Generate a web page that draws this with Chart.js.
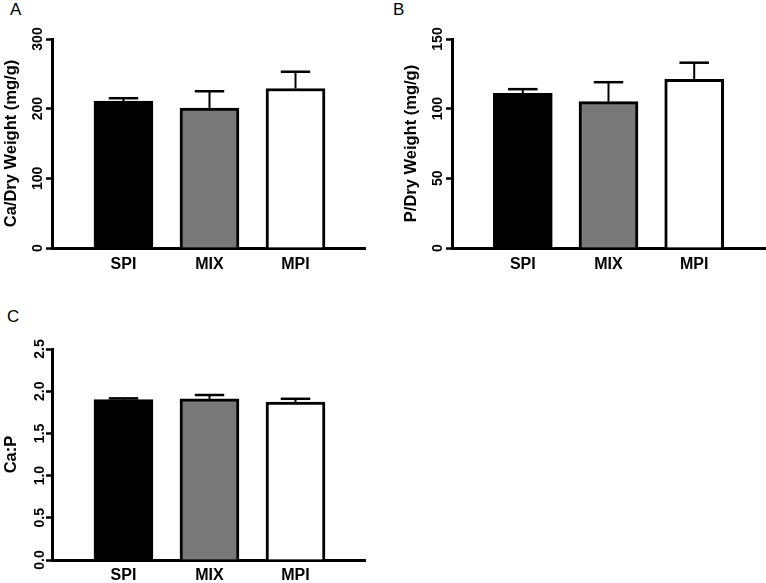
<!DOCTYPE html>
<html>
<head>
<meta charset="utf-8">
<script src="https://cdn.jsdelivr.net/npm/chart.js@4/dist/chart.umd.min.js"></script>
<style>
  html, body { margin: 0; padding: 0; background: #fff; }
  body { width: 766px; height: 583px; position: relative; overflow: hidden; font-family: "Liberation Sans", Arial, sans-serif; }
  .panel { position: absolute; }
  .letter { position: absolute; font-size: 17px; line-height: 17px; color: #000; font-family: "Liberation Sans", Arial, sans-serif; }
</style>
</head>
<body>
<div class="letter" style="left:10px; top:1px;">A</div>
<div class="letter" style="left:393px; top:1px;">B</div>
<div class="letter" style="left:7px; top:308px;">C</div>
<div class="panel" style="left:0; top:0; width:366px; height:280px;"><canvas id="cA"></canvas></div>
<div class="panel" style="left:400px; top:0; width:366px; height:280px;"><canvas id="cB"></canvas></div>
<div class="panel" style="left:0; top:310px; width:366px; height:273px;"><canvas id="cC"></canvas></div>
<script>
// ---- data ----
const categories = ['SPI', 'MIX', 'MPI'];
const barColors = ['#000000', '#787878', '#ffffff'];

const caMean = [211, 201, 229];
const caErr = [4, 24, 24];
const caTicks = [0, 100, 200, 300];

const pMean = [111, 105, 121];
const pErr = [3, 14, 12];
const pTicks = [0, 50, 100, 150];

const ratioMean = [1.90, 1.91, 1.87];
const ratioErr = [0.015, 0.045, 0.04];
const ratioTicks = [0.0, 0.5, 1.0, 1.5, 2.0, 2.5];

// ---- error bar plugin (uses the chart's own scales) ----
const errorBars = {
  id: 'errorBars',
  beforeDatasetsDraw(chart, args, opts) {
    const ctx = chart.ctx;
    const meta = chart.getDatasetMeta(0);
    const yScale = chart.scales.y;
    const errs = opts.errors || [];
    const means = chart.data.datasets[0].data;
    ctx.save();
    ctx.strokeStyle = '#000';
    meta.data.forEach((bar, i) => {
      const v = means[i].y;
      const yTop = yScale.getPixelForValue(v + errs[i]);
      const yBase = yScale.getPixelForValue(v);
      const x = bar.x;
      const capHalf = bar.width / 4;
      ctx.lineWidth = 2;
      ctx.beginPath();
      ctx.moveTo(x, yBase);
      ctx.lineTo(x, yTop);
      ctx.stroke();
      ctx.lineWidth = 2.5;
      ctx.beginPath();
      ctx.moveTo(x - capHalf, yTop);
      ctx.lineTo(x + capHalf, yTop);
      ctx.stroke();
    });
    ctx.restore();
  }
};

function makeChart(id, means, errs, ticks, title, xMin, xMax, yWidth, xHeight, xPad, tickFmt) {
  const maxV = ticks[ticks.length - 1];
  return new Chart(document.getElementById(id), {
    type: 'bar',
    data: {
      datasets: [{
        data: categories.map((c, i) => ({ x: i, y: means[i] })),
        backgroundColor: barColors,
        borderColor: '#000',
        borderWidth: 3,
        barThickness: 59
      }]
    },
    options: {
      responsive: true,
      maintainAspectRatio: false,
      animation: false,
      layout: { padding: { top: 39, right: 1, left: 0, bottom: 0 } },
      plugins: {
        legend: { display: false },
        tooltip: { enabled: false },
        errorBars: { errors: errs }
      },
      scales: {
        x: {
          type: 'linear',
          min: xMin,
          max: xMax,
          offset: false,
          grid: { display: false },
          border: { display: true, color: '#000', width: 3 },
          afterBuildTicks: (s) => { s.ticks = categories.map((c, i) => ({ value: i })); },
          afterFit: (s) => { s.height = xHeight; },
          ticks: {
            autoSkip: false,
            maxRotation: 0,
            minRotation: 0,
            padding: xPad,
            color: '#000',
            font: { family: '"Liberation Sans", Arial, sans-serif', size: 16, weight: 'bold' },
            callback: (v) => categories[v]
          }
        },
        y: {
          min: 0,
          max: maxV,
          afterBuildTicks: (s) => { s.ticks = ticks.map(v => ({ value: v })); },
          afterFit: (s) => { s.width = yWidth; },
          grid: {
            display: true,
            drawOnChartArea: false,
            drawTicks: true,
            tickLength: 6,
            tickWidth: 2.5,
            tickColor: '#000'
          },
          border: { display: true, color: '#000', width: 3 },
          ticks: {
            minRotation: 90,
            maxRotation: 90,
            crossAlign: 'center',
            padding: -4,
            color: '#000',
            font: { family: '"Liberation Sans", Arial, sans-serif', size: 14, weight: 'bold' },
            callback: tickFmt
          },
          title: {
            display: true,
            text: title,
            color: '#000',
            padding: { top: 2, bottom: 0 },
            font: { family: '"Liberation Sans", Arial, sans-serif', size: 16.5, weight: 'bold' }
          }
        }
      }
    },
    plugins: [errorBars]
  });
}

makeChart('cA', caMean, caErr, caTicks, 'Ca/Dry Weight (mg/g)', -0.831, 2.808, 52, 32, -1, (v) => String(v));
makeChart('cB', pMean, pErr, pTicks, 'P/Dry Weight (mg/g)', -0.826, 2.826, 52, 32, -1, (v) => String(v));
makeChart('cC', ratioMean, ratioErr, ratioTicks, 'Ca:P', -0.831, 2.808, 52, 23, -2, (v) => v.toFixed(1));
</script>
</body>
</html>
